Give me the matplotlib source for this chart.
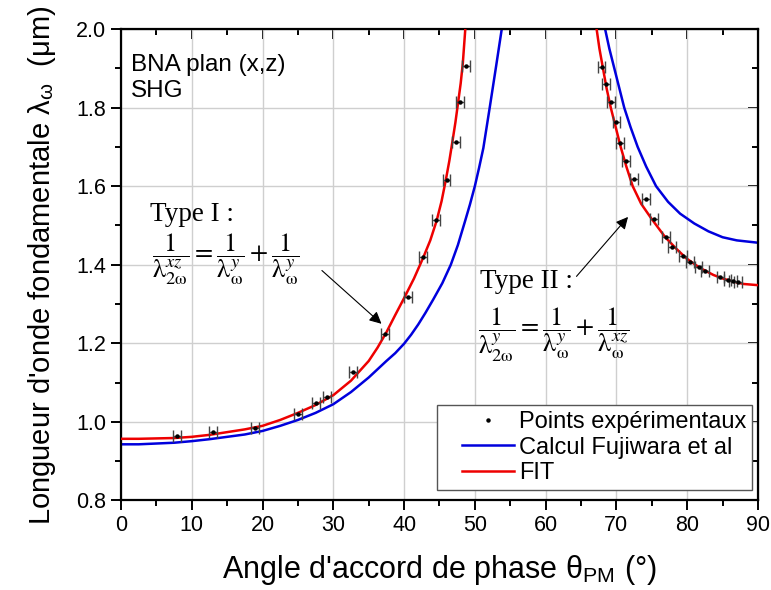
import matplotlib
matplotlib.use("Agg")
import matplotlib.pyplot as plt
from matplotlib.legend_handler import HandlerLine2D
from matplotlib.ticker import MultipleLocator, FormatStrFormatter

plt.rcParams["font.family"] = ["Liberation Sans", "DejaVu Sans"]
plt.rcParams["mathtext.fontset"] = "stix"

# ── Experimental points (type I branch then type II branch) ─────────────
exp_theta = [7.95, 13.0, 18.9, 25.0, 27.5, 29.1, 32.8, 37.3, 40.6, 42.7,
             44.5, 46.0, 47.3, 47.9, 48.7,
             67.9, 68.5, 69.2, 70.0, 70.5, 71.4, 72.5, 74.2, 75.3,
             77.0, 77.9, 79.4, 80.4, 81.6, 82.5, 84.7, 85.7, 86.5, 87.2]
exp_lambda = [0.965, 0.974, 0.984, 1.019, 1.047, 1.063, 1.127, 1.224, 1.318, 1.420,
              1.514, 1.616, 1.712, 1.815, 1.906,
              1.904, 1.859, 1.815, 1.763, 1.711, 1.664, 1.618, 1.568, 1.516,
              1.470, 1.446, 1.422, 1.408, 1.393, 1.385, 1.370, 1.361, 1.359, 1.357]
exp_err = 0.55

# ── FIT curve (red) ──────────────────────────────────────────────────────
fit1_theta = [0, 2.5, 5, 7.5, 10, 12.5, 15, 17.5, 20, 22.5, 25, 27.5, 30, 32.5, 35,
              36.25, 37.5, 38.75, 40, 41.4, 42.7, 43.7, 44.6, 45.3, 45.9, 46.4, 46.8,
              47.25, 47.65, 48.0, 48.3, 48.65]
fit1_lambda = [0.957, 0.957, 0.958, 0.959, 0.962, 0.967, 0.974, 0.981, 0.990, 1.005,
               1.023, 1.043, 1.068, 1.105, 1.155, 1.189, 1.228, 1.272, 1.315, 1.365,
               1.418, 1.462, 1.512, 1.562, 1.616, 1.665, 1.710, 1.762, 1.815, 1.862,
               1.913, 2.0]
fit2_theta = [67.2, 67.6, 68.1, 68.6, 69.2, 69.9, 70.6, 71.4, 72.3, 73.5, 75.0, 76.9,
              78.5, 79.9, 81.8, 83.7, 85.0, 86.5, 88.0, 90]
fit2_lambda = [2.0, 1.95, 1.90, 1.85, 1.80, 1.75, 1.70, 1.65, 1.60, 1.555, 1.516, 1.470,
               1.440, 1.416, 1.392, 1.374, 1.365, 1.357, 1.351, 1.348]

# ── Calcul Fujiwara et al (blue) ─────────────────────────────────────────
calc1_theta = [0, 2.5, 5, 7.5, 10, 12.5, 15, 17.5, 20, 22.5, 25, 27.5, 30, 32.5, 35,
               37.5, 38.75, 40, 41, 42, 43, 44.1, 45.4, 46.6, 47.6, 48.6, 49.3, 50.0,
               50.6, 51.2, 52.1, 53.0, 53.8]
calc1_lambda = [0.943, 0.943, 0.945, 0.947, 0.951, 0.956, 0.962, 0.968, 0.977, 0.990,
                1.005, 1.023, 1.045, 1.076, 1.113, 1.155, 1.175, 1.199, 1.222, 1.248,
                1.277, 1.311, 1.353, 1.400, 1.450, 1.510, 1.553, 1.600, 1.647, 1.697,
                1.800, 1.905, 2.0]
calc2_theta = [68.4, 69.0, 69.7, 70.4, 71.1, 72.0, 73.0, 74.2, 75.6, 77.3, 79.0, 81.0,
               83.0, 85.0, 87.0, 90]
calc2_lambda = [2.0, 1.95, 1.90, 1.85, 1.80, 1.75, 1.70, 1.65, 1.60, 1.56, 1.53, 1.505,
                1.485, 1.470, 1.462, 1.456]

fig = plt.figure(figsize=(7.71, 5.90), dpi=100)
ax = fig.add_axes([0.1569, 0.1517, 0.8262, 0.7992])

ax.grid(True, color="#cfcfcf", linewidth=1.0, zorder=0)
ax.set_axisbelow(True)

ax.plot(calc1_theta, calc1_lambda, color="#0000dd", lw=1.8, zorder=2, label="Calcul Fujiwara et al")
ax.plot(calc2_theta, calc2_lambda, color="#0000dd", lw=1.8, zorder=2)
ax.plot(fit1_theta, fit1_lambda, color="#ee0000", lw=1.8, zorder=3, label="FIT")
ax.plot(fit2_theta, fit2_lambda, color="#ee0000", lw=1.8, zorder=3)
ax.errorbar(exp_theta, exp_lambda, xerr=exp_err, fmt="o", ms=2.2, color="black",
            ecolor="#444444", elinewidth=1.0, capsize=4, capthick=1.0, zorder=4)
ax.plot([], [], "o", ms=2.2, color="black", label="Points expérimentaux")

ax.set_xlim(0, 90)
ax.set_ylim(0.8, 2.0)
ax.xaxis.set_major_locator(MultipleLocator(10))
ax.xaxis.set_minor_locator(MultipleLocator(5))
ax.yaxis.set_major_locator(MultipleLocator(0.2))
ax.yaxis.set_minor_locator(MultipleLocator(0.1))
ax.yaxis.set_major_formatter(FormatStrFormatter("%.1f"))

for s in ax.spines.values():
    s.set_linewidth(1.6)
ax.tick_params(which="both", direction="out", width=1.4, labelsize=15.5, top=False, right=False)
ax.tick_params(which="major", length=7)
ax.tick_params(which="minor", length=4)

# inward ticks on top and right
ax_top = ax.secondary_xaxis("top")
ax_top.xaxis.set_major_locator(MultipleLocator(10))
ax_top.xaxis.set_minor_locator(MultipleLocator(5))
ax_top.tick_params(which="both", direction="in", width=1.4, labeltop=False)
ax_top.tick_params(which="major", length=7)
ax_top.tick_params(which="minor", length=4)
ax_right = ax.secondary_yaxis("right")
ax_right.yaxis.set_major_locator(MultipleLocator(0.2))
ax_right.yaxis.set_minor_locator(MultipleLocator(0.1))
ax_right.tick_params(which="both", direction="in", width=1.4, labelright=False)
ax_right.tick_params(which="major", length=7)
ax_right.tick_params(which="minor", length=4)

ax.set_xlabel(r"Angle d'accord de phase θ$_\mathregular{PM}$ (°)", fontsize=22, labelpad=12)
ax.set_ylabel(r"Longueur d'onde fondamentale λ$_\mathregular{ω}$  (μm)", fontsize=21, labelpad=13)

ax.text(1.4, 1.875, "BNA plan (x,z)\nSHG", fontsize=17.5, va="center", ha="left", linespacing=1.2)

serif = ["Liberation Serif", "DejaVu Serif"]
ax.text(4.1, 1.527, "Type I :", fontsize=19.5, family=serif, va="center")
ax.text(4.4, 1.415,
        r"$\dfrac{1}{\mathrm{\lambda}_{2\mathrm{\omega}}^{xz}}=\dfrac{1}{\mathrm{\lambda}_{\mathrm{\omega}}^{y}}"
        r"+\dfrac{1}{\mathrm{\lambda}_{\mathrm{\omega}}^{y}}$",
        fontsize=19, va="center")
ax.annotate("", xy=(37.1, 1.245), xytext=(28.1, 1.39),
            arrowprops=dict(arrowstyle="-|>", color="black", lw=0.8, mutation_scale=18))

ax.text(50.7, 1.357, "Type II :", fontsize=19.5, family=serif, va="center")
ax.text(50.4, 1.222,
        r"$\dfrac{1}{\mathrm{\lambda}_{2\mathrm{\omega}}^{y}}=\dfrac{1}{\mathrm{\lambda}_{\mathrm{\omega}}^{y}}"
        r"+\dfrac{1}{\mathrm{\lambda}_{\mathrm{\omega}}^{xz}}$",
        fontsize=19, va="center")
ax.annotate("", xy=(71.9, 1.527), xytext=(64.1, 1.365),
            arrowprops=dict(arrowstyle="-|>", color="black", lw=0.8, mutation_scale=18))

handles, labels = ax.get_legend_handles_labels()
order = [2, 0, 1]
leg = ax.legend([handles[i] for i in order], [labels[i] for i in order],
                loc="lower right", bbox_to_anchor=(0.9906, 0.0223), fontsize=17,
                frameon=True, fancybox=False, edgecolor="#555555", framealpha=1,
                borderpad=0.25, handlelength=3.0, handletextpad=0.2, labelspacing=0.15,
                borderaxespad=0, handler_map={h: HandlerLine2D(xpad=0.8) for h in handles})
leg.get_frame().set_linewidth(1.0)

fig.savefig("out.png", dpi=100)
